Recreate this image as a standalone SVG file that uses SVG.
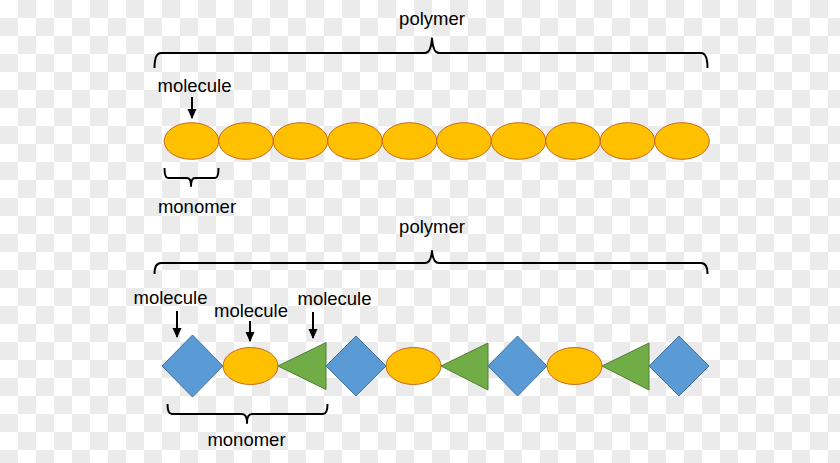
<svg xmlns="http://www.w3.org/2000/svg" width="840" height="463" viewBox="0 0 840 463">
<defs>
<pattern id="checker" x="0" y="0" width="36" height="36" patternUnits="userSpaceOnUse">
<rect x="0" y="0" width="36" height="36" fill="#ffffff"/>
<rect x="18" y="0" width="18" height="18" fill="#ebebeb"/>
<rect x="0" y="18" width="18" height="18" fill="#ebebeb"/>
</pattern>
<marker id="ah" markerUnits="userSpaceOnUse" markerWidth="10" markerHeight="10" viewBox="0 0 10 10" refX="9" refY="5" orient="auto">
<path d="M0,0.5 L10,5 L0,9.5 Z" fill="#000"/>
</marker>
</defs>
<style>
text{font-family:"Liberation Sans",Arial,sans-serif;font-size:18.5px;fill:#000;text-anchor:middle}
.brace{fill:none;stroke:#000;stroke-width:2;stroke-linejoin:round}
.arrow{stroke:#000;stroke-width:2;marker-end:url(#ah)}
.ell{fill:#FFC000;stroke:#C8691C;stroke-width:1}
.dia{fill:#5B9BD5;stroke:#41719C;stroke-width:1}
.tri{fill:#70AD47;stroke:#507E32;stroke-width:1}
</style>
<rect x="0" y="0" width="840" height="463" fill="url(#checker)"/>

<g id="labels">
<text x="432" y="25">polymer</text>
<text x="194.5" y="92">molecule</text>
<text x="197" y="213">monomer</text>
<text x="432" y="233">polymer</text>
<text x="170.5" y="304">molecule</text>
<text x="251" y="317">molecule</text>
<text x="334.5" y="305">molecule</text>
<text x="246.5" y="446">monomer</text>
</g>

<g id="connectors">
<path class="brace" d="M154.5,68 Q154.5,53 161,53 L425,53 Q431,53 432,38.5 Q433,53 439,53 L701,53 Q707.5,53 707.5,68"/>
<path class="brace" d="M164.5,168 Q164.5,178 168,178 L187,178 Q191,178 191,186 Q191,178 195,178 L215,178 Q218.5,178 218.5,168"/>
<path class="brace" d="M154.5,274 Q154.5,263 161,263 L425,263 Q431,263 432,251 Q433,263 439,263 L701,263 Q707.5,263 707.5,274"/>
<path class="brace" d="M167.5,404 Q167.5,414 172,414 L242,414 Q247,414 247,423 Q247,414 252,414 L323,414 Q327.5,414 327.5,404"/>
<line class="arrow" x1="192" y1="97" x2="192" y2="118"/>
<line class="arrow" x1="177" y1="311" x2="177" y2="337"/>
<line class="arrow" x1="250" y1="321" x2="250" y2="341"/>
<line class="arrow" x1="313" y1="312" x2="313" y2="338"/>
</g>

<g id="top-chain">
<ellipse class="ell" cx="191.5" cy="141" rx="27.3" ry="18.3"/>
<ellipse class="ell" cx="246" cy="141" rx="27.3" ry="18.3"/>
<ellipse class="ell" cx="300.5" cy="141" rx="27.3" ry="18.3"/>
<ellipse class="ell" cx="355" cy="141" rx="27.3" ry="18.3"/>
<ellipse class="ell" cx="409.5" cy="141" rx="27.3" ry="18.3"/>
<ellipse class="ell" cx="464" cy="141" rx="27.3" ry="18.3"/>
<ellipse class="ell" cx="518.5" cy="141" rx="27.3" ry="18.3"/>
<ellipse class="ell" cx="573" cy="141" rx="27.3" ry="18.3"/>
<ellipse class="ell" cx="627.5" cy="141" rx="27.3" ry="18.3"/>
<ellipse class="ell" cx="682" cy="141" rx="27.3" ry="18.3"/>
</g>

<g id="bottom-chain">
<polygon class="dia" points="192.5,335 223,366 192.5,397 162,366"/>
<ellipse class="ell" cx="250.5" cy="366" rx="27.5" ry="18.5"/>
<polygon class="tri" points="278,366 326,342.5 326,389.5"/>
<polygon class="dia" points="356,336 386,366 356,396 326,366"/>
<ellipse class="ell" cx="413.5" cy="366" rx="27.5" ry="18.5"/>
<polygon class="tri" points="441,366 488,343 488,390"/>
<polygon class="dia" points="517.5,336 547,366 517.5,396 488,366"/>
<ellipse class="ell" cx="574.5" cy="366" rx="27.5" ry="18.5"/>
<polygon class="tri" points="602,366 649,343 649,390"/>
<polygon class="dia" points="679,336 709,366 679,396 649,366"/>
</g>
</svg>
